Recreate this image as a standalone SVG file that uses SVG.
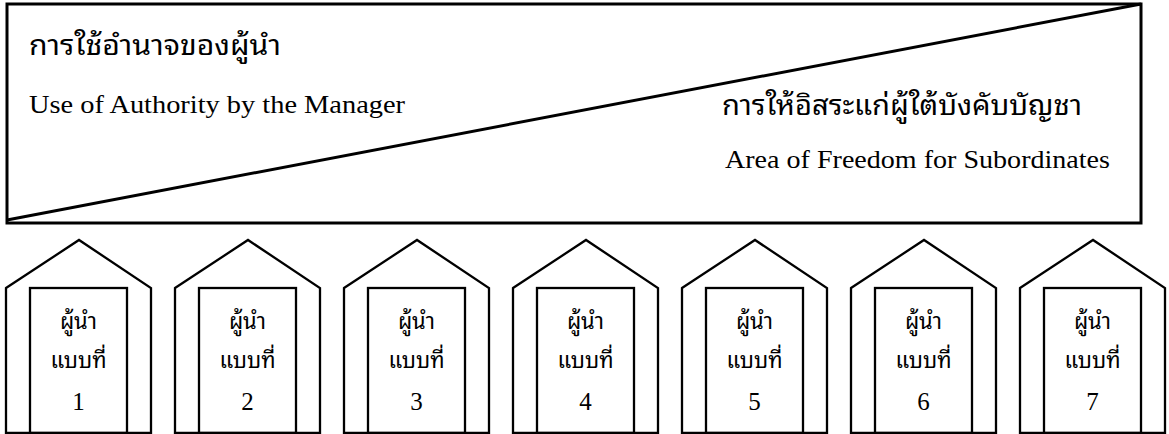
<svg xmlns="http://www.w3.org/2000/svg" xmlns:xlink="http://www.w3.org/1999/xlink" width="1169" height="434" viewBox="0 0 1169 434">
<style>
.ln{fill:none;stroke:#000;stroke-width:3;stroke-linejoin:miter}
.hs{fill:none;stroke:#000;stroke-width:2.3;stroke-linejoin:miter}
.th{font-family:"Noto Sans Thai Looped","Noto Serif Thai","Noto Sans Thai","Noto Sans",sans-serif;fill:#000}
.en{font-family:"Liberation Serif",serif;fill:#000}
.lbl{font-size:22px;text-anchor:middle}
.num{font-size:25px;text-anchor:middle}
</style>
<defs>
<g id="houseShape">
<polygon class="hs" points="0,288 73,240 145,288 145,433 0,433"/>
<rect class="hs" x="24" y="288" width="97" height="145"/>
</g>
</defs>
<rect width="1169" height="434" fill="#fff"/>
<g id="panel">
<rect class="ln" x="7" y="4" width="1134" height="219"/>
<line class="ln" x1="7" y1="220" x2="1141" y2="4"/>
<text class="th" x="29" y="55" font-size="28" textLength="252" lengthAdjust="spacingAndGlyphs">การใช้อำนาจของผู้นำ</text>
<text class="en" x="29" y="113" font-size="26" textLength="376" lengthAdjust="spacingAndGlyphs">Use of Authority by the Manager</text>
<text class="th" x="722" y="115" font-size="28" textLength="360" lengthAdjust="spacingAndGlyphs">การให้อิสระแก่ผู้ใต้บังคับบัญชา</text>
<text class="en" x="725" y="168" font-size="26" textLength="385" lengthAdjust="spacingAndGlyphs">Area of Freedom for Subordinates</text>
</g>
<g id="house1" transform="translate(6,0)"><use xlink:href="#houseShape"/><text class="th lbl" x="72.5" y="329">ผู้นำ</text><text class="th lbl" x="72.5" y="368">แบบที่</text><text class="en num" x="72.5" y="410">1</text></g>
<g id="house2" transform="translate(175,0)"><use xlink:href="#houseShape"/><text class="th lbl" x="72.5" y="329">ผู้นำ</text><text class="th lbl" x="72.5" y="368">แบบที่</text><text class="en num" x="72.5" y="410">2</text></g>
<g id="house3" transform="translate(344,0)"><use xlink:href="#houseShape"/><text class="th lbl" x="72.5" y="329">ผู้นำ</text><text class="th lbl" x="72.5" y="368">แบบที่</text><text class="en num" x="72.5" y="410">3</text></g>
<g id="house4" transform="translate(513,0)"><use xlink:href="#houseShape"/><text class="th lbl" x="72.5" y="329">ผู้นำ</text><text class="th lbl" x="72.5" y="368">แบบที่</text><text class="en num" x="72.5" y="410">4</text></g>
<g id="house5" transform="translate(682,0)"><use xlink:href="#houseShape"/><text class="th lbl" x="72.5" y="329">ผู้นำ</text><text class="th lbl" x="72.5" y="368">แบบที่</text><text class="en num" x="72.5" y="410">5</text></g>
<g id="house6" transform="translate(851,0)"><use xlink:href="#houseShape"/><text class="th lbl" x="72.5" y="329">ผู้นำ</text><text class="th lbl" x="72.5" y="368">แบบที่</text><text class="en num" x="72.5" y="410">6</text></g>
<g id="house7" transform="translate(1020,0)"><use xlink:href="#houseShape"/><text class="th lbl" x="72.5" y="329">ผู้นำ</text><text class="th lbl" x="72.5" y="368">แบบที่</text><text class="en num" x="72.5" y="410">7</text></g>
<g id="connectors"/>
</svg>
